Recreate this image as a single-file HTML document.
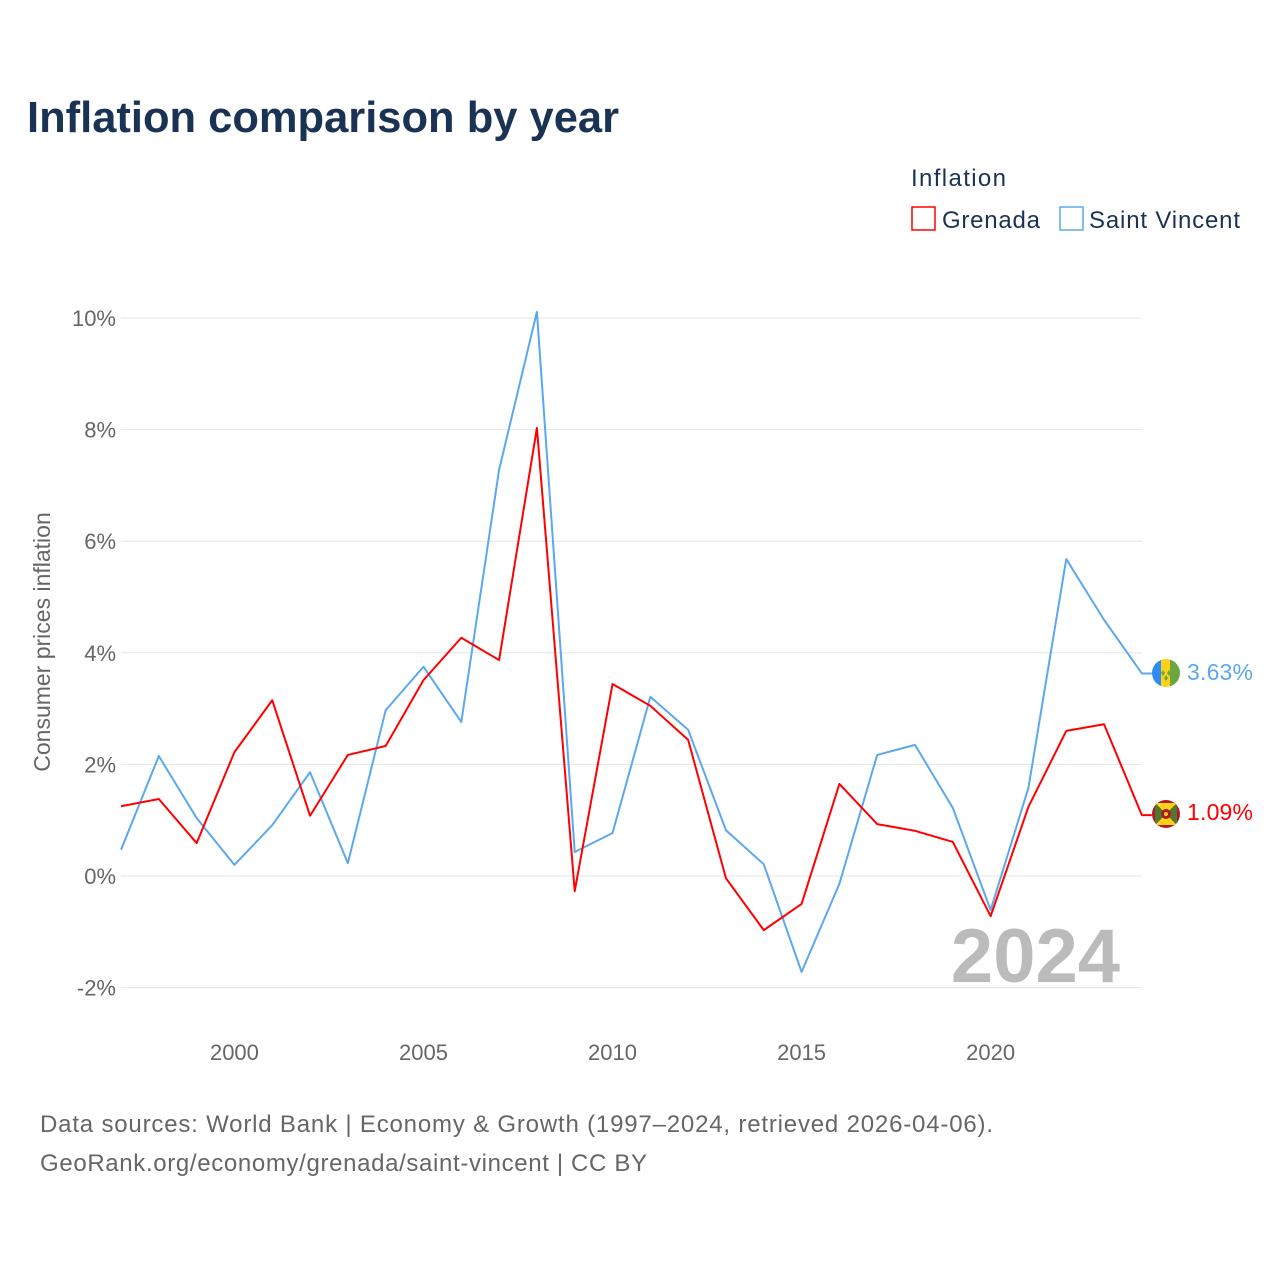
<!DOCTYPE html>
<html><head><meta charset="utf-8"><style>
body{margin:0;background:#fff;font-family:"Liberation Sans",sans-serif}
svg text{font-family:"Liberation Sans",sans-serif}
</style></head><body>
<svg width="1280" height="1280" id="c">
<text x="27" y="132" font-size="44" font-weight="bold" fill="#1a3355" textLength="592" lengthAdjust="spacingAndGlyphs">Inflation comparison by year</text>
<text x="911" y="186" font-size="24" fill="#1a3355" textLength="95">Inflation</text>
<g><rect x="912" y="207" width="23" height="23" fill="none" stroke="#f00" stroke-width="1.5"/><text x="942" y="228" font-size="24" fill="#1a3355" textLength="98">Grenada</text></g>
<g><rect x="1060" y="207" width="23" height="23" fill="none" stroke="#5ba8ee" stroke-width="1.5"/><text x="1089" y="228" font-size="24" fill="#1a3355" textLength="151">Saint Vincent</text></g>
<text transform="translate(50,642) rotate(-90)" text-anchor="middle" font-size="23" fill="#666">Consumer prices inflation</text>
<g id="grid"></g><g id="xt"></g>
<text x="1120" y="982" text-anchor="end" font-size="76" font-weight="bold" fill="#bbb">2024</text>
<g id="lines"></g>
<g><clipPath id="f1"><circle cx="1166" cy="673" r="14"/></clipPath><g clip-path="url(#f1)"><rect x="1152" y="659" width="10" height="28" fill="#2f8cf0"/><rect x="1161" y="659" width="10" height="28" fill="#fcd116"/><rect x="1170" y="659" width="10" height="28" fill="#6ca640"/><path d="M1163 670 l2 3 -2 3 -2 -3z M1169 670 l2 3 -2 3 -2 -3z M1166 675 l2 3 -2 3 -2 -3z" fill="#6ca640"/></g></g>
<text x="1187" y="680" font-size="23" fill="#5ba8ee" textLength="66">3.63%</text>
<g><clipPath id="f2"><circle cx="1166" cy="814" r="14"/></clipPath><g clip-path="url(#f2)"><rect x="1152" y="800" width="28" height="28" fill="#b5172a"/><polygon points="1155,803 1177,803 1166,814" fill="#fcd116"/><polygon points="1155,825 1177,825 1166,814" fill="#fcd116"/><polygon points="1155,803 1155,825 1166,814" fill="#4e7a2e"/><polygon points="1177,803 1177,825 1166,814" fill="#4e7a2e"/><circle cx="1166" cy="814" r="5" fill="#b5172a"/><circle cx="1166" cy="814" r="2" fill="#fcd116"/></g></g>
<text x="1187" y="820" font-size="23" fill="#f00" textLength="66">1.09%</text>
<text x="40" y="1132" font-size="24" fill="#666" textLength="953">Data sources: World Bank | Economy &amp; Growth (1997–2024, retrieved 2026-04-06).</text>
<text x="40" y="1171" font-size="24" fill="#666" textLength="607">GeoRank.org/economy/grenada/saint-vincent | CC BY</text>
</svg>
<script>
const years=[1997,1998,1999,2000,2001,2002,2003,2004,2005,2006,2007,2008,2009,2010,2011,2012,2013,2014,2015,2016,2017,2018,2019,2020,2021,2022,2023,2024];
const grenada=[1.25,1.38,0.59,2.22,3.15,1.08,2.17,2.33,3.51,4.27,3.87,8.03,-0.27,3.44,3.05,2.44,-0.04,-0.97,-0.5,1.65,0.93,0.81,0.61,-0.72,1.24,2.6,2.72,1.09];
const saintVincent=[0.47,2.15,1.04,0.2,0.91,1.86,0.23,2.97,3.75,2.76,7.28,10.11,0.43,0.77,3.21,2.62,0.82,0.21,-1.72,-0.14,2.17,2.35,1.22,-0.61,1.58,5.68,4.59,3.63];
const yTicks=[-2,0,2,4,6,8,10];
const xTicks=[2000,2005,2010,2015,2020];
const NS="http://www.w3.org/2000/svg";
const X=v=>121+(v-1997)*37.81, Y=v=>876-v*55.8;
function mk(t,a,p){const e=document.createElementNS(NS,t);for(const k in a)e.setAttribute(k,a[k]);p.appendChild(e);return e;}
const g=document.getElementById('grid');
yTicks.forEach(v=>{
 const l=mk('line',{x1:121,x2:1142,y1:Y(v),y2:Y(v),stroke:'#e6e6e6'},g);
 
 
 const t=mk('text',{x:116,y:Y(v)+8,'text-anchor':'end','font-size':22,fill:'#666'},g);
 t.textContent=v+'%';
 
 
});
const xt=document.getElementById('xt');
xTicks.forEach(v=>{
 const t=mk('text',{x:X(v),y:1060,'text-anchor':'middle','font-size':22,fill:'#666'},xt);
 t.textContent=v;
 
 
});
const L=document.getElementById('lines');
[[saintVincent,'#5ba8ee','line-saint-vincent'],[grenada,'#f00','line-grenada']].forEach(([d,c,n])=>{
 let pts=d.map((v,i)=>X(years[i])+','+Y(v));
 pts.push((X(2024)+10)+','+Y(d[d.length-1]));
 const p=mk('polyline',{points:pts.join(' '),fill:'none',stroke:c,'stroke-width':2,'stroke-linejoin':'round'},L);
 
 
});
</script>
</body></html>
